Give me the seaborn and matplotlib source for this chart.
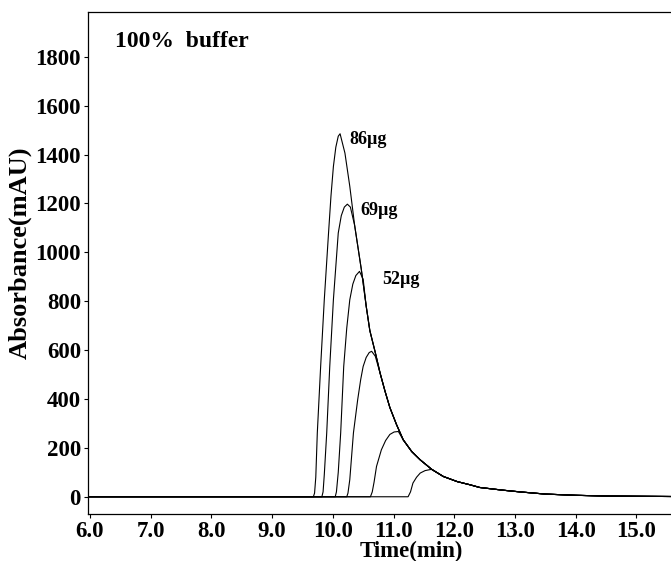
import numpy as np
import pandas as pd
import matplotlib
matplotlib.use("Agg")
import matplotlib.pyplot as plt
import seaborn as sns

# === DATA ===
# shared tailing edge, every run falls onto it after its apex
tail_t = [10.12, 10.20, 10.28, 10.36, 10.47, 10.55, 10.61, 10.70, 10.78, 10.86,
          10.94, 11.05, 11.16, 11.30, 11.44, 11.63, 11.82, 12.05, 12.26, 12.42,
          12.80, 13.08, 13.50, 14.00, 14.50, 15.00, 15.60]
tail_a = [1485, 1406, 1270, 1110, 930, 780, 680, 590, 505, 432,
          365, 295, 233, 185, 151, 112, 83, 62, 49, 38,
          27, 20, 11, 6, 3, 2, 1]

# fronts: onset -> apex -> last point before the run joins the tail
front_86_t = [9.68, 9.70, 9.72, 9.745, 9.80, 9.86, 9.93, 9.97, 10.01, 10.05, 10.09, 10.12]
front_86_a = [0, 15, 80, 261, 533, 806, 1079, 1230, 1351, 1430, 1475, 1485]
front_69_t = [9.82, 9.84, 9.86, 9.90, 9.95, 10.01, 10.09, 10.14, 10.19, 10.24, 10.29]
front_69_a = [0, 20, 90, 261, 533, 806, 1079, 1150, 1185, 1197, 1185]
front_52_t = [10.04, 10.06, 10.09, 10.13, 10.18, 10.23, 10.28, 10.33, 10.38, 10.44, 10.50]
front_52_a = [0, 20, 100, 261, 533, 690, 806, 870, 905, 922, 890]
front_r4_t = [10.23, 10.25, 10.28, 10.34, 10.41, 10.46, 10.50, 10.55, 10.60, 10.64, 10.70]
front_r4_a = [0, 15, 70, 261, 397, 480, 533, 570, 590, 595, 575]
front_r5_t = [10.62, 10.65, 10.68, 10.72, 10.80, 10.87, 10.94, 11.01, 11.08]
front_r5_a = [0, 20, 60, 124, 192, 230, 255, 265, 267]
front_r6_t = [11.24, 11.28, 11.32, 11.38, 11.44, 11.52, 11.60]
front_r6_a = [0, 20, 56, 80, 97, 107, 111]

runs = ["86µg", "69µg", "52µg", "run4", "run5", "run6"]
fronts = [(front_86_t, front_86_a), (front_69_t, front_69_a), (front_52_t, front_52_a),
          (front_r4_t, front_r4_a), (front_r5_t, front_r5_a), (front_r6_t, front_r6_a)]

x_ticks = [6.0, 7.0, 8.0, 9.0, 10.0, 11.0, 12.0, 13.0, 14.0, 15.0]
y_ticks = [0, 200, 400, 600, 800, 1000, 1200, 1400, 1600, 1800]

# === build long table ===
rows = []
for name, (ft, fa) in zip(runs, fronts):
    t = [5.97] + list(ft)
    a = [0] + list(fa)
    for tt, aa in zip(tail_t, tail_a):
        if tt > ft[-1]:
            t.append(tt)
            a.append(aa)
    for tt, aa in zip(t, a):
        rows.append({"run": name, "time": tt, "abs": aa})
df = pd.DataFrame(rows)

# === plot ===
sns.set_style("ticks")
plt.rcParams["font.family"] = ["Liberation Serif", "DejaVu Serif"]
plt.rcParams["font.weight"] = "bold"
for key in ["text.color", "axes.labelcolor", "xtick.color", "ytick.color"]:
    plt.rcParams[key] = "black"

fig = plt.figure(figsize=(6.71, 5.61), dpi=100)
ax = fig.add_axes([0.131, 0.084, 0.869, 0.895])

sns.lineplot(data=df, x="time", y="abs", hue="run", palette={r: "black" for r in runs},
             estimator=None, sort=False, legend=False, linewidth=0.8, ax=ax)

ax.set_xlim(5.967, 15.57)
ax.set_ylim(-70, 1984)
ax.set_xticks(x_ticks)
ax.set_xticklabels([f"{v:.1f}" for v in x_ticks])
ax.set_yticks(y_ticks)
ax.tick_params(axis="both", labelsize=16.5, length=3, width=0.8, pad=2, colors="black")
for lab in ax.get_xticklabels() + ax.get_yticklabels():
    lab.set_fontweight("bold")

ax.spines["right"].set_visible(False)
for s in ["left", "bottom", "top"]:
    ax.spines[s].set_linewidth(0.9)
    ax.spines[s].set_color("black")

ax.set_xlabel("Time(min)", fontsize=16.5, fontweight="bold")
ax.xaxis.set_label_coords(0.554, -0.053, transform=ax.transAxes)
ax.xaxis.label.set_va("top")
ax.set_ylabel("Absorbance(mAU)", fontsize=19, fontweight="bold")
ax.yaxis.set_label_coords(-0.097, 0.52, transform=ax.transAxes)

ax.text(0.046, 0.94, "100%  buffer", transform=ax.transAxes, fontsize=17,
        fontweight="bold", va="center", ha="left")
ax.text(10.28, 1461, "86µg", fontsize=13, fontweight="bold", va="center")
ax.text(10.46, 1170, "69µg", fontsize=13, fontweight="bold", va="center")
ax.text(10.81, 888, "52µg", fontsize=13, fontweight="bold", va="center")

fig.savefig("out.png", dpi=100)
